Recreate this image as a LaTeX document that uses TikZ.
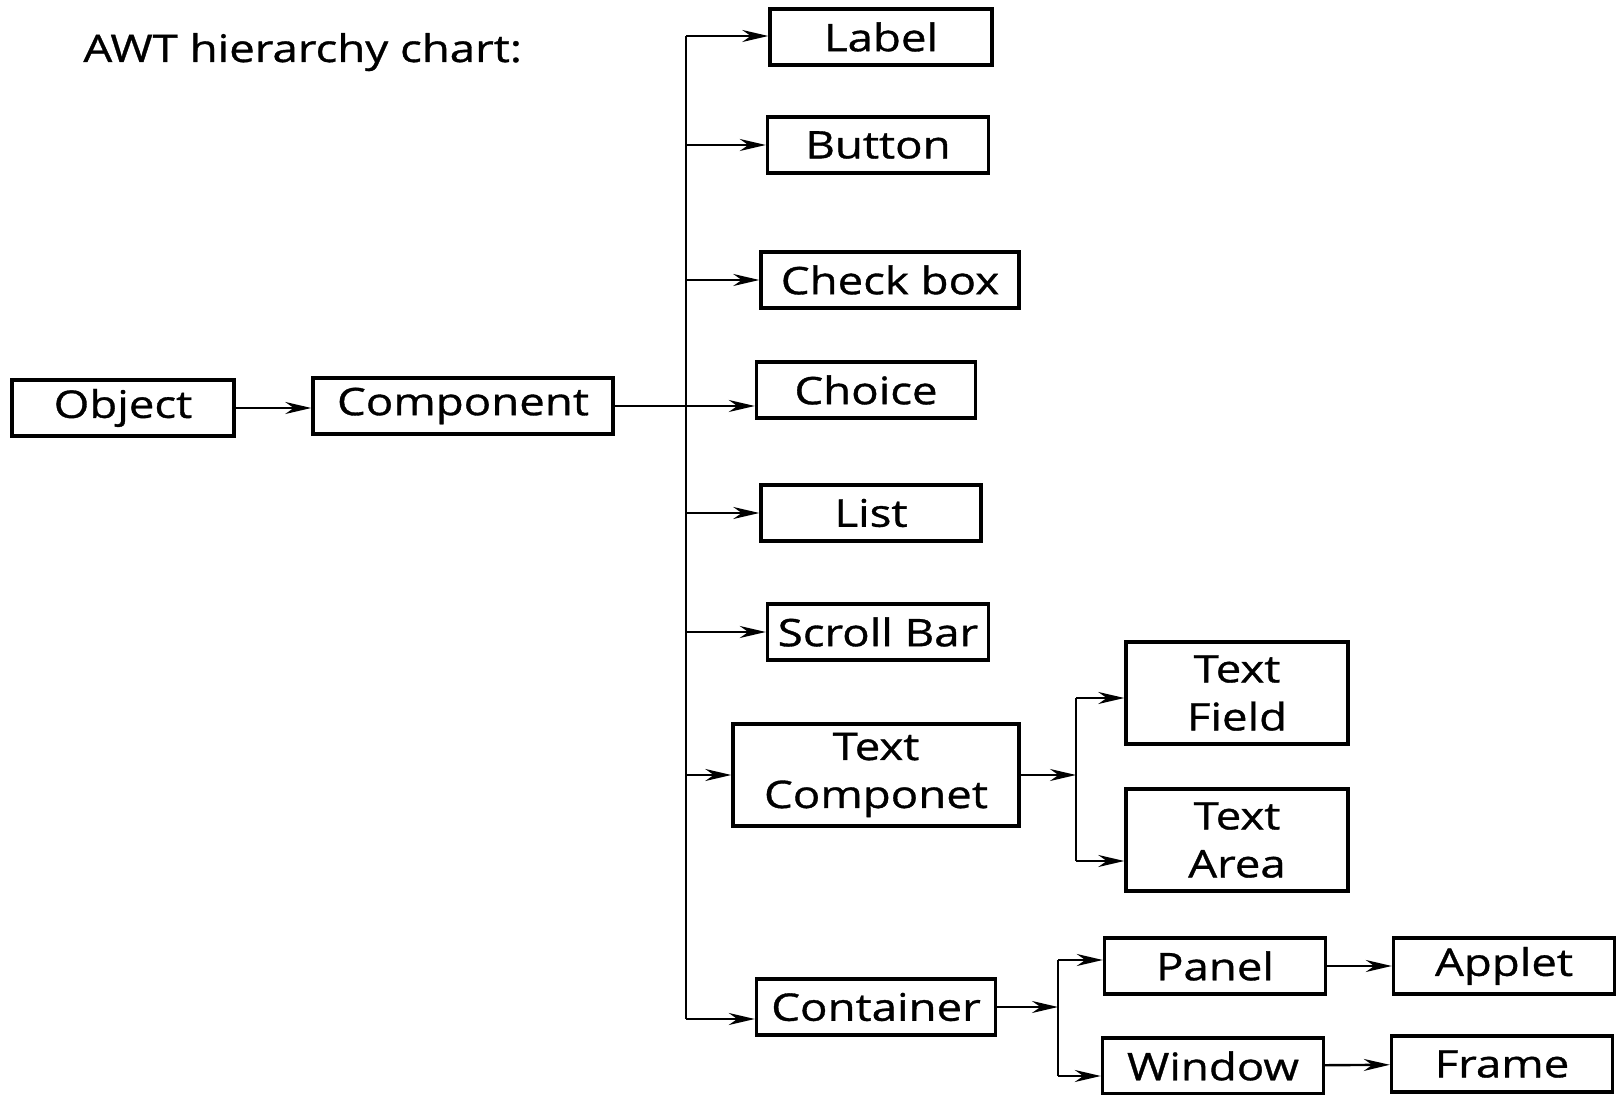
\documentclass[tikz,border=0pt]{standalone}
\usepackage{fontspec}
\setmainfont[FakeStretch=1.2,FakeBold=0.9]{Open Sans}
\usetikzlibrary{arrows.meta,positioning,calc}

\begin{document}
\begin{tikzpicture}[
  x=0.5pt, y=-0.5pt,
  box/.style     = {draw, line width=1.7pt,
                    minimum width=111pt, minimum height=28pt,
                    inner sep=2pt, align=center,
                    font=\fontsize{19}{24}\selectfont},
  tallbox/.style = {box, minimum height=51pt},
  arr/.style     = {-{Stealth[length=13pt,width=6pt]}, line width=1.2pt},
  bar/.style     = {line width=1.2pt},
]
\useasboundingbox (0,0) rectangle (1623,1095);
\node[anchor=base west, inner sep=0pt, font=\fontsize{19}{24}\selectfont]
     (title) at (83,62) {AWT hierarchy chart:};
\node[box] (obj) at (123,408) {Object};
\node[box, minimum width=150pt] (comp) at (463,406) {Component};
\node[box] (lbl) at (881,37) {Label};
\node[box, minimum width=110.5pt] (btn) at (878,145) {Button};
\node[box, minimum width=129pt] (chk) at (890,280) {Check box};
\node[box, minimum width=109.5pt] (choice) at (866,390) {Choice};
\node[box, minimum width=110pt] (list) at (871,513) {List};
\node[box, minimum width=110.5pt] (scroll) at (878,632) {Scroll Bar};
\node[tallbox, minimum width=143pt] (tcomp) at (876,775) {Text\\Componet};
\node[box, minimum width=119.5pt] (cont) at (876,1007) {Container};
\node[tallbox] (tfield) at (1237,693) {Text\\Field};
\node[tallbox] (tarea) at (1237,840) {Text\\Area};
\node[box, minimum width=110.5pt] (panel) at (1215,966) {Panel};
\node[box, minimum width=110.5pt] (window) at (1213,1066) {Window};
\node[box, minimum width=110.5pt] (applet) at (1504,966) {Applet};
\node[box, minimum width=110.5pt] (frame) at (1502,1064) {Frame};
% trunk from Component
\coordinate (ttop) at (686,36);
\coordinate (tbot) at (686,1019);
\draw[bar] (ttop) -- (tbot);
\draw[arr] (obj.east) -- (obj.east -| comp.west);
\draw[arr] (comp.east) -- (comp.east -| choice.west);
\draw[arr] (ttop) -- (ttop -| lbl.west);
\draw[arr] (ttop |- btn.west) -- (btn.west);
\draw[arr] (ttop |- chk.west) -- (chk.west);
\draw[arr] (ttop |- list.west) -- (list.west);
\draw[arr] (ttop |- scroll.west) -- (scroll.west);
\draw[arr] (ttop |- tcomp.west) -- (tcomp.west);
\draw[arr] (tbot) -- (tbot -| cont.west);
% text component fork
\coordinate (tcfork) at (1076,775);
\coordinate (tfin) at (1076,698);
\coordinate (tain) at (1076,861);
\draw[arr] (tcomp.east) -- (tcfork);
\draw[bar] (tfin) -- (tain);
\draw[arr] (tfin) -- (tfin -| tfield.west);
\draw[arr] (tain) -- (tain -| tarea.west);
% container fork
\coordinate (cfork) at (1058,1007);
\coordinate (pin) at (1058,960);
\coordinate (win) at (1058,1076);
\draw[arr] (cont.east) -- (cfork);
\draw[bar] (pin) -- (win);
\draw[arr] (pin) -- (pin -| panel.west);
\draw[arr] (win) -- (win -| window.west);
\draw[arr] (panel) -- (applet);
\draw[arr] (window) -- (frame);
\end{tikzpicture}
\end{document}
